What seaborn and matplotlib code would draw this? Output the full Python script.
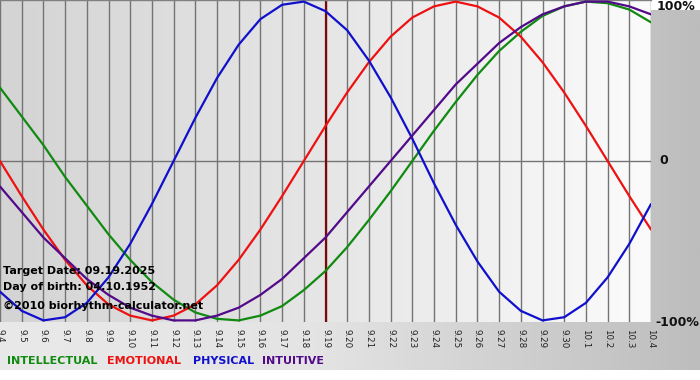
import numpy as np
import pandas as pd
import seaborn as sns
import matplotlib.pyplot as plt
from matplotlib.colors import LinearSegmentedColormap

# Day labels along the bottom (09.04 .. 10.04)
day_labels = ["9.4", "9.5", "9.6", "9.7", "9.8", "9.9", "9.10", "9.11", "9.12", "9.13",
              "9.14", "9.15", "9.16", "9.17", "9.18", "9.19", "9.20", "9.21", "9.22", "9.23",
              "9.24", "9.25", "9.26", "9.27", "9.28", "9.29", "9.30", "10.1", "10.2", "10.3", "10.4"]

# Daily cycle values (fraction of 100%)
intellectual = [0.46, 0.28, 0.10, -0.10, -0.28, -0.46, -0.62, -0.76, -0.87, -0.95,
                -0.99, -1.00, -0.97, -0.91, -0.81, -0.69, -0.54, -0.37, -0.19, 0.00,
                0.19, 0.37, 0.54, 0.69, 0.81, 0.91, 0.97, 1.00, 0.99, 0.95, 0.87]
emotional = [0.00, -0.22, -0.43, -0.62, -0.78, -0.90, -0.97, -1.00, -0.97, -0.90,
             -0.78, -0.62, -0.43, -0.22, 0.00, 0.22, 0.43, 0.62, 0.78, 0.90,
             0.97, 1.00, 0.97, 0.90, 0.78, 0.62, 0.43, 0.22, 0.00, -0.22, -0.43]
physical = [-0.82, -0.94, -1.00, -0.98, -0.89, -0.73, -0.52, -0.27, 0.00, 0.27,
            0.52, 0.73, 0.89, 0.98, 1.00, 0.94, 0.82, 0.63, 0.40, 0.14,
            -0.14, -0.40, -0.63, -0.82, -0.94, -1.00, -0.98, -0.89, -0.73, -0.52, -0.27]
intuitive = [-0.16, -0.32, -0.48, -0.61, -0.74, -0.84, -0.92, -0.97, -1.00, -1.00,
             -0.97, -0.92, -0.84, -0.74, -0.61, -0.48, -0.32, -0.16, 0.00, 0.16,
             0.32, 0.48, 0.61, 0.74, 0.84, 0.92, 0.97, 1.00, 1.00, 0.97, 0.92]

series_names = ["INTELLECTUAL", "EMOTIONAL", "PHYSICAL", "INTUITIVE"]
series_colors = ["#108a10", "#ee1111", "#1010cc", "#520a8a"]
target_day = "9.19"

target_text = "Target Date: 09.19.2025"
birth_text = "Day of birth: 04.10.1952"
copy_text = "\u00a92010 biorhythm-calculator.net"

days = np.arange(len(day_labels))
df = pd.DataFrame({
    "day": np.tile(days, 4),
    "value": intellectual + emotional + physical + intuitive,
    "cycle": np.repeat(series_names, len(days)),
})

sns.set_theme(style="white")
plt.rcParams["font.family"] = ["DejaVu Sans"]

W, H = 700, 380
fig = plt.figure(figsize=(W / 100, H / 100), dpi=100)
fig.patch.set_facecolor("white")

# figure background: light gray fading to darker gray on the right, white strip at the bottom
bg = fig.add_axes([0, 10 / H, 1, 360 / H])
bg_cmap = LinearSegmentedColormap.from_list(
    "bg", [(0, "#e9e9e9"), (0.45, "#e4e4e4"), (1, "#bdbdbd")])
bg.imshow(np.linspace(0, 1, 256)[None, :], cmap=bg_cmap, aspect="auto",
          extent=[0, 1, 0, 1])
bg.set_axis_off()

# plot area
ax = fig.add_axes([0, 1 - 322 / H, 651 / W, 322 / H])
plot_cmap = LinearSegmentedColormap.from_list("pl", ["#d4d4d4", "#e6e6e6", "#fbfbfb"])
ax.imshow(np.linspace(0, 1, 256)[None, :], cmap=plot_cmap, aspect="auto",
          extent=[0, len(days) - 1, -1.01, 1.01], zorder=0)

for d in days:
    ax.axvline(d, color="#747474", lw=1.0, zorder=1)
ax.axhline(0, color="#747474", lw=1.0, zorder=1)
ax.axvline(day_labels.index(target_day), color="#7a0a0a", lw=1.6, zorder=1)

sns.lineplot(data=df, x="day", y="value", hue="cycle", hue_order=series_names,
             palette=series_colors, lw=1.6, legend=False, ax=ax, zorder=3)

ax.set_xlim(0, len(days) - 1)
ax.set_ylim(-1.01, 1.01)
ax.set_xlabel("")
ax.set_ylabel("")
ax.set_xticks(days)
ax.set_xticklabels(day_labels, rotation=-90, fontsize=6.3, color="#222222")
ax.set_yticks([])
ax.tick_params(axis="x", length=3, width=0.8, color="#747474", pad=2)
for side in ["left", "right", "bottom"]:
    ax.spines[side].set_visible(False)
ax.spines["top"].set_color("#808080")
ax.spines["top"].set_linewidth(1.0)

# info text in the lower left of the plot
ax.text(3 / 651, 1 - 271 / 322, target_text, transform=ax.transAxes, fontsize=8,
        fontweight="bold", color="black", va="center", ha="left", zorder=4)
ax.text(3 / 651, 1 - 287 / 322, birth_text, transform=ax.transAxes, fontsize=8,
        fontweight="bold", color="black", va="center", ha="left", zorder=4)
ax.text(3 / 651, 1 - 306 / 322, copy_text, transform=ax.transAxes, fontsize=8,
        fontweight="bold", color="black", va="center", ha="left", zorder=4)

# percent labels on the right
for txt, ypx, xpx in [("100%", 6, 657), ("0", 161, 659), ("-100%", 322, 655)]:
    fig.text(xpx / W, 1 - ypx / H, txt, fontsize=9, fontweight="bold",
             color="#111111", va="center", ha="left")

# coloured legend words along the bottom
for name, col, xpx in zip(series_names, series_colors, [7, 107, 193, 262]):
    fig.text(xpx / W, 1 - 361 / H, name, fontsize=8, fontweight="bold",
             color=col, va="center", ha="left")

fig.savefig("out.png", dpi=100)
